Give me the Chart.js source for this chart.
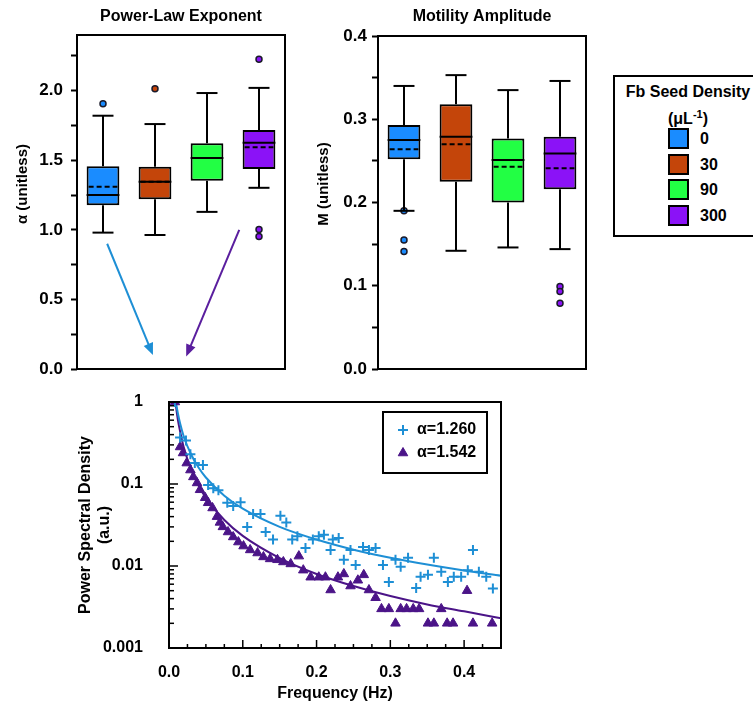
<!DOCTYPE html>
<html>
<head>
<meta charset="utf-8">
<script src="https://cdn.jsdelivr.net/npm/chart.js@4.4.1/dist/chart.umd.min.js"></script>
<style>
  body { margin: 0; background: #fff; font-family: 'Liberation Sans', Arial, sans-serif; }
  #page { position: relative; width: 753px; height: 707px; overflow: hidden; }
  canvas { position: absolute; }
  #seedLegend { position: absolute; left: 613px; top: 75px; width: 150px; height: 158px; border: 2px solid #000; font-weight: bold; font-size: 16px; color: #000; }
  #seedLegend .hd { position: absolute; left: 0; width: 146px; text-align: center; line-height: 19px; }
  #seedLegend sup { font-size: 11px; }
  #seedLegend .sw { position: absolute; left: 53px; width: 21px; height: 21px; box-sizing: border-box; border: 2px solid #000; }
  #seedLegend .lb { position: absolute; left: 85px; line-height: 21px; }
</style>
</head>
<body>
<div id="page">
  <canvas id="alphaChart" width="300" height="380" style="left:0;top:0"></canvas>
  <canvas id="ampChart" width="300" height="380" style="left:300px;top:0"></canvas>
  <canvas id="psdChart" width="445" height="327" style="left:75px;top:380px"></canvas>
  <div id="seedLegend">
    <div class="hd" style="top:5px">Fb Seed Density</div>
    <div class="hd" style="top:28px">(&mu;L<sup>-1</sup>)</div>
  </div>
</div>
<script>
// groups = Fb seed density (per uL)
var groups = ['0', '30', '90', '300'];
var groupColors = ['#1A8CFF', '#C4450A', '#22FF44', '#8B12F7'];

// power-law exponent boxes
var alphaMin = [0.98, 0.963, 1.129, 1.302];
var alphaQ1 = [1.177, 1.22, 1.353, 1.437];
var alphaMedian = [1.25, 1.345, 1.516, 1.625];
var alphaMean = [1.31, 1.345, 1.516, 1.593];
var alphaQ3 = [1.456, 1.454, 1.622, 1.718];
var alphaMax = [1.82, 1.76, 1.983, 2.02];
var alphaOutliers = [[1.906], [2.014], [], [2.226, 1.003, 0.952]];

// motility amplitude boxes
var ampMin = [0.19, 0.142, 0.146, 0.144];
var ampQ1 = [0.252, 0.225, 0.2, 0.216];
var ampMedian = [0.275, 0.279, 0.251, 0.259];
var ampMean = [0.264, 0.270, 0.243, 0.241];
var ampQ3 = [0.293, 0.318, 0.277, 0.279];
var ampMax = [0.34, 0.353, 0.335, 0.346];
var ampOutliers = [[0.19, 0.155, 0.141], [], [], [0.099, 0.093, 0.079]];

// arrows in panel 1, as [category index, alpha]
var arrowFrom = [[0.08, 0.90], [2.62, 1.0]];
var arrowTo = [[0.96, 0.10], [1.60, 0.09]];
var arrowColors = ['#1E8FD5', '#5A1E9E'];

// power spectra
var freqBlue = [0.008, 0.015, 0.023, 0.029, 0.035, 0.046, 0.053, 0.060, 0.067, 0.079, 0.087, 0.097, 0.106, 0.114, 0.124, 0.131, 0.141, 0.151, 0.159, 0.167, 0.174, 0.185, 0.195, 0.203, 0.210, 0.219, 0.222, 0.230, 0.237, 0.246, 0.253, 0.263, 0.271, 0.280, 0.290, 0.298, 0.307, 0.314, 0.324, 0.335, 0.341, 0.351, 0.359, 0.369, 0.378, 0.386, 0.396, 0.405, 0.412, 0.420, 0.430, 0.439];
var psdBlue = [1.0, 0.37, 0.34, 0.23, 0.18, 0.17, 0.097, 0.089, 0.084, 0.059, 0.054, 0.060, 0.030, 0.043, 0.043, 0.026, 0.021, 0.041, 0.034, 0.021, 0.023, 0.0166, 0.021, 0.023, 0.024, 0.0157, 0.021, 0.022, 0.0119, 0.0157, 0.0103, 0.0170, 0.0157, 0.0166, 0.0103, 0.0064, 0.0119, 0.0098, 0.0126, 0.0054, 0.0074, 0.0078, 0.0126, 0.0085, 0.0064, 0.0074, 0.0074, 0.0089, 0.0157, 0.0085, 0.0074, 0.0053];
var freqPurple = [0.008, 0.015, 0.019, 0.024, 0.029, 0.033, 0.038, 0.042, 0.049, 0.053, 0.059, 0.065, 0.069, 0.073, 0.080, 0.087, 0.094, 0.101, 0.110, 0.120, 0.128, 0.137, 0.147, 0.155, 0.165, 0.176, 0.182, 0.192, 0.203, 0.212, 0.219, 0.229, 0.237, 0.246, 0.256, 0.264, 0.271, 0.280, 0.288, 0.298, 0.307, 0.314, 0.322, 0.331, 0.339, 0.351, 0.359, 0.369, 0.377, 0.385, 0.404, 0.412, 0.438];
var psdPurple = [1.0, 0.283, 0.239, 0.180, 0.148, 0.122, 0.103, 0.085, 0.068, 0.059, 0.051, 0.040, 0.034, 0.030, 0.026, 0.0226, 0.0196, 0.0175, 0.0157, 0.0144, 0.0129, 0.0122, 0.0119, 0.0112, 0.0106, 0.0132, 0.0089, 0.0073, 0.0073, 0.0073, 0.0051, 0.0073, 0.0080, 0.0057, 0.0067, 0.0078, 0.0051, 0.0041, 0.003, 0.003, 0.002, 0.003, 0.003, 0.003, 0.003, 0.002, 0.002, 0.003, 0.002, 0.002, 0.005, 0.002, 0.002];
var fitFreq = [0.0095, 0.012, 0.015, 0.02, 0.03, 0.04, 0.05, 0.075, 0.1, 0.15, 0.2, 0.25, 0.3, 0.35, 0.4, 0.45];
var fitBlue = [0.97, 0.73, 0.55, 0.38, 0.229, 0.159, 0.120, 0.072, 0.050, 0.030, 0.021, 0.0158, 0.0126, 0.0104, 0.0088, 0.0076];
var fitPurple = [0.88, 0.61, 0.44, 0.28, 0.150, 0.096, 0.068, 0.0364, 0.0233, 0.0125, 0.0080, 0.0057, 0.0043, 0.0034, 0.0028, 0.0023];
var fitLabels = ['\u03B1=1.260', '\u03B1=1.542'];

var FONT = "'Liberation Sans', Arial, sans-serif";
var BLUE = '#1E8FD5';
var PURPLE = '#4B1488';
Chart.defaults.font.family = FONT;
Chart.defaults.color = '#000';

function isMultiple(v, step) {
  return Math.abs(v / step - Math.round(v / step)) < 1e-6;
}

function line(ctx, x1, y1, x2, y2) {
  ctx.beginPath();
  ctx.moveTo(x1, y1);
  ctx.lineTo(x2, y2);
  ctx.stroke();
}

var framePlugin = {
  id: 'frame',
  afterDraw: function (chart) {
    var a = chart.chartArea, ctx = chart.ctx;
    ctx.save();
    ctx.strokeStyle = '#000';
    ctx.lineWidth = 2;
    ctx.strokeRect(a.left, a.top, a.right - a.left, a.bottom - a.top);
    ctx.restore();
  }
};

function boxPlugin(s) {
  return {
    id: 'whiskers',
    afterDatasetsDraw: function (chart) {
      var ctx = chart.ctx, y = chart.scales.y;
      ctx.save();
      ctx.strokeStyle = '#000';
      ctx.lineWidth = 2;
      chart.getDatasetMeta(0).data.forEach(function (bar, i) {
        var x = bar.x, half = bar.width / 2, cap = bar.width * 0.32;
        var yMax = y.getPixelForValue(s.max[i]), yMin = y.getPixelForValue(s.min[i]);
        line(ctx, x, y.getPixelForValue(s.q3[i]), x, yMax);
        line(ctx, x - cap, yMax, x + cap, yMax);
        line(ctx, x, y.getPixelForValue(s.q1[i]), x, yMin);
        line(ctx, x - cap, yMin, x + cap, yMin);
        var yMed = y.getPixelForValue(s.median[i]);
        line(ctx, x - half, yMed, x + half, yMed);
        ctx.setLineDash([5, 3]);
        var yMean = y.getPixelForValue(s.mean[i]);
        line(ctx, x - half + 2, yMean, x + half - 2, yMean);
        ctx.setLineDash([]);
      });
      ctx.restore();
    }
  };
}

function textPlugin(s) {
  return {
    id: 'panelText',
    afterDraw: function (chart) {
      var ctx = chart.ctx, a = chart.chartArea;
      ctx.save();
      ctx.fillStyle = '#000';
      ctx.font = 'bold 16px ' + FONT;
      ctx.textAlign = 'center';
      ctx.textBaseline = 'middle';
      ctx.fillText(s.title, (a.left + a.right) / 2, 17);
      ctx.font = 'bold 15px ' + FONT;
      ctx.translate(a.left - 54, 184);
      ctx.rotate(-Math.PI / 2);
      ctx.fillText(s.yTitle, 0, 0);
      ctx.restore();
    }
  };
}

var arrowPlugin = {
  id: 'arrows',
  afterDatasetsDraw: function (chart) {
    var ctx = chart.ctx, xs = chart.scales.x, ys = chart.scales.y;
    ctx.save();
    ctx.lineWidth = 2;
    arrowFrom.forEach(function (p, i) {
      var x1 = xs.getPixelForValue(p[0]), y1 = ys.getPixelForValue(p[1]);
      var x2 = xs.getPixelForValue(arrowTo[i][0]), y2 = ys.getPixelForValue(arrowTo[i][1]);
      var ang = Math.atan2(y2 - y1, x2 - x1);
      ctx.strokeStyle = arrowColors[i];
      ctx.fillStyle = arrowColors[i];
      line(ctx, x1, y1, x2 - 8 * Math.cos(ang), y2 - 8 * Math.sin(ang));
      ctx.beginPath();
      ctx.moveTo(x2, y2);
      ctx.lineTo(x2 - 12 * Math.cos(ang) + 5 * Math.sin(ang), y2 - 12 * Math.sin(ang) - 5 * Math.cos(ang));
      ctx.lineTo(x2 - 12 * Math.cos(ang) - 5 * Math.sin(ang), y2 - 12 * Math.sin(ang) + 5 * Math.cos(ang));
      ctx.closePath();
      ctx.fill();
    });
    ctx.restore();
  }
};

function makeBoxChart(id, s) {
  var outPts = [], outColors = [];
  s.outliers.forEach(function (list, i) {
    list.forEach(function (v) {
      outPts.push({ x: groups[i], y: v });
      outColors.push(groupColors[i]);
    });
  });
  var plugins = [boxPlugin(s), framePlugin, textPlugin(s)];
  if (s.arrows) plugins.push(arrowPlugin);
  return new Chart(document.getElementById(id), {
    type: 'bar',
    data: {
      labels: groups,
      datasets: [{
        data: groups.map(function (g, i) { return [s.q1[i], s.q3[i]]; }),
        backgroundColor: groupColors,
        borderColor: '#000',
        borderWidth: 2,
        borderSkipped: false,
        barPercentage: 0.63,
        categoryPercentage: 1,
        order: 2
      }, {
        type: 'scatter',
        data: outPts,
        pointRadius: 3,
        pointBackgroundColor: outColors,
        pointBorderColor: '#1a1a2a',
        pointBorderWidth: 1.5,
        order: 1
      }]
    },
    options: {
      responsive: false,
      animation: false,
      layout: { padding: s.pad },
      plugins: { legend: { display: false }, tooltip: { enabled: false } },
      scales: {
        x: { display: false },
        y: {
          min: 0,
          max: s.yMax,
          border: { display: false },
          grid: { drawOnChartArea: false, drawTicks: true, tickLength: 6, tickColor: '#000', tickWidth: 2 },
          ticks: {
            stepSize: s.step,
            includeBounds: false,
            autoSkip: false,
            padding: s.tickPad,
            color: '#000',
            font: { size: 17, weight: 'bold' },
            callback: function (v) { return isMultiple(v, s.labelStep) ? v.toFixed(1) : ''; }
          },
          afterFit: function (scale) {
            scale.width = s.yWidth;
            scale.paddingTop = 0;
            scale.paddingBottom = 0;
          }
        }
      }
    },
    plugins: plugins
  });
}

makeBoxChart('alphaChart', {
  title: 'Power-Law Exponent', yTitle: '\u03B1 (unitless)',
  min: alphaMin, q1: alphaQ1, median: alphaMedian, mean: alphaMean, q3: alphaQ3, max: alphaMax,
  outliers: alphaOutliers, yMax: 2.4, step: 0.25, labelStep: 0.5,
  pad: { top: 35, right: 15, bottom: 11, left: 0 }, yWidth: 77, tickPad: 8, arrows: true
});

makeBoxChart('ampChart', {
  title: 'Motility Amplitude', yTitle: 'M (unitless)',
  min: ampMin, q1: ampQ1, median: ampMedian, mean: ampMean, q3: ampQ3, max: ampMax,
  outliers: ampOutliers, yMax: 0.4, step: 0.05, labelStep: 0.1,
  pad: { top: 36, right: 14, bottom: 11, left: 0 }, yWidth: 78, tickPad: 5
});

// seed density legend
var seedLegend = document.getElementById('seedLegend');
groups.forEach(function (g, i) {
  var top = 51 + i * 25.5;
  var sw = document.createElement('div');
  sw.className = 'sw';
  sw.style.top = top + 'px';
  sw.style.background = groupColors[i];
  seedLegend.appendChild(sw);
  var lb = document.createElement('div');
  lb.className = 'lb';
  lb.style.top = top + 'px';
  lb.textContent = g;
  seedLegend.appendChild(lb);
});

// PSD chart
function pairs(xs, ys) {
  return xs.map(function (x, i) { return { x: x, y: ys[i] }; });
}

var inwardTicks = {
  id: 'inwardTicks',
  afterDraw: function (chart) {
    var ctx = chart.ctx, a = chart.chartArea, xs = chart.scales.x, ys = chart.scales.y;
    ctx.save();
    ctx.strokeStyle = '#000';
    ctx.lineWidth = 1.5;
    xs.ticks.forEach(function (t) {
      var px = xs.getPixelForValue(t.value);
      line(ctx, px, a.bottom, px, a.bottom - (isMultiple(t.value, 0.1) ? 8 : 4));
    });
    var e0 = Math.round(Math.log10(ys.min)), e1 = Math.round(Math.log10(ys.max));
    for (var e = e0; e < e1; e++) {
      for (var k = 1; k < 10; k++) {
        var py = ys.getPixelForValue(k * Math.pow(10, e));
        line(ctx, a.left, py, a.left + (k === 1 ? 9 : 5), py);
      }
    }
    ctx.restore();
  }
};

var psdLegend = {
  id: 'psdLegend',
  afterDraw: function (chart) {
    var ctx = chart.ctx, a = chart.chartArea;
    var left = a.right - 118, top = a.top + 10;
    ctx.save();
    ctx.fillStyle = '#fff';
    ctx.fillRect(left, top, 104, 61);
    ctx.strokeStyle = '#000';
    ctx.lineWidth = 2;
    ctx.strokeRect(left, top, 104, 61);
    [0, 1].forEach(function (i) {
      var ds = chart.data.datasets[i];
      var cy = top + 18 + i * 23;
      ctx.strokeStyle = ds.borderColor;
      ctx.fillStyle = ds.backgroundColor;
      ctx.lineWidth = ds.pointBorderWidth;
      Chart.helpers.drawPoint(ctx, { pointStyle: ds.pointStyle, radius: ds.pointRadius, borderWidth: ds.pointBorderWidth, rotation: 0 }, left + 20, cy);
      ctx.fillStyle = '#000';
      ctx.font = 'bold 16px ' + FONT;
      ctx.textAlign = 'left';
      ctx.textBaseline = 'middle';
      ctx.fillText(fitLabels[i], left + 34, cy);
    });
    ctx.restore();
  }
};

new Chart(document.getElementById('psdChart'), {
  type: 'scatter',
  data: {
    datasets: [{
      label: fitLabels[0],
      data: pairs(freqBlue, psdBlue),
      pointStyle: 'cross',
      pointRadius: 5,
      pointBorderWidth: 2,
      borderColor: BLUE,
      backgroundColor: BLUE
    }, {
      label: fitLabels[1],
      data: pairs(freqPurple, psdPurple),
      pointStyle: 'triangle',
      pointRadius: 5.5,
      pointBorderWidth: 1,
      borderColor: PURPLE,
      backgroundColor: PURPLE
    }, {
      data: pairs(fitFreq, fitBlue),
      showLine: true,
      pointRadius: 0,
      borderWidth: 2,
      borderColor: BLUE,
      cubicInterpolationMode: 'monotone'
    }, {
      data: pairs(fitFreq, fitPurple),
      showLine: true,
      pointRadius: 0,
      borderWidth: 2,
      borderColor: PURPLE,
      cubicInterpolationMode: 'monotone'
    }]
  },
  options: {
    responsive: false,
    animation: false,
    layout: { padding: { top: 22, right: 19, bottom: 0, left: 0 } },
    plugins: { legend: { display: false }, tooltip: { enabled: false } },
    scales: {
      x: {
        type: 'linear',
        min: 0,
        max: 0.45,
        border: { display: false },
        grid: { display: false },
        ticks: {
          stepSize: 0.025,
          autoSkip: false,
          maxRotation: 0,
          minRotation: 0,
          padding: 7,
          color: '#000',
          font: { size: 16, weight: 'bold' },
          callback: function (v) { return isMultiple(v, 0.1) ? v.toFixed(1) : ''; }
        },
        title: { display: true, text: 'Frequency (Hz)', color: '#000', font: { size: 16, weight: 'bold' }, padding: { top: 0, bottom: 4 } },
        afterFit: function (scale) {
          scale.height = 59;
          scale.paddingLeft = 0;
          scale.paddingRight = 0;
        }
      },
      y: {
        type: 'logarithmic',
        min: 0.001,
        max: 1,
        border: { display: false },
        grid: { display: false },
        ticks: {
          autoSkip: false,
          padding: 18,
          color: '#000',
          font: { size: 16, weight: 'bold' },
          callback: function (v) {
            var l = Math.log10(v);
            return Math.abs(l - Math.round(l)) < 1e-6 ? String(Number(v.toPrecision(3))) : '';
          }
        },
        title: { display: true, text: ['Power Spectral Density', '(a.u.)'], color: '#000', font: { size: 16, weight: 'bold', lineHeight: 1.2 }, padding: { top: 1, bottom: 0 } },
        afterFit: function (scale) {
          scale.width = 94;
          scale.paddingTop = 0;
          scale.paddingBottom = 0;
        }
      }
    }
  },
  plugins: [inwardTicks, framePlugin, psdLegend]
});
</script>
</body>
</html>
